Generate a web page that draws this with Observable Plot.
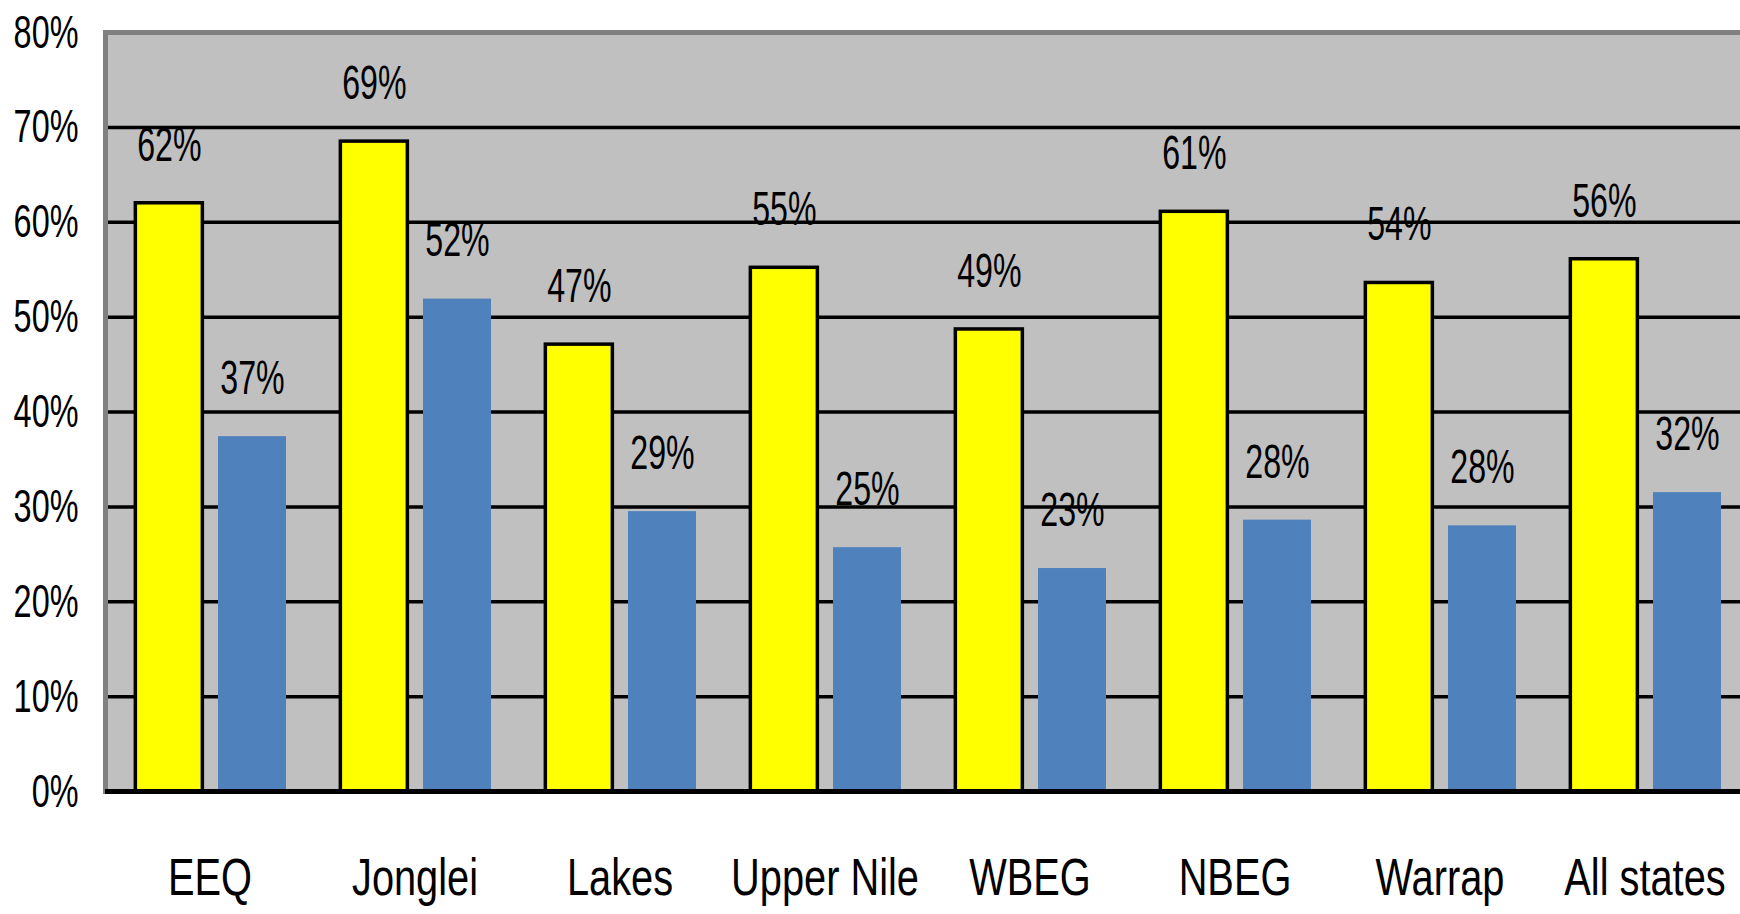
<!DOCTYPE html>
<html>
<head>
<meta charset="utf-8">
<script src="https://cdn.jsdelivr.net/npm/d3@7"></script>
<script src="https://cdn.jsdelivr.net/npm/@observablehq/plot@0.6"></script>
<style>
  html, body { margin: 0; padding: 0; overflow: hidden; background: #fff; }
</style>
</head>
<body>
<div id="chart"></div>
<script>
const categories = ["EEQ", "Jonglei", "Lakes", "Upper Nile", "WBEG", "NBEG", "Warrap", "All states"];
const yellowValues = [62.0, 68.5, 47.1, 55.2, 48.7, 61.1, 53.6, 56.1];
const yellowLabels = ["62%", "69%", "47%", "55%", "49%", "61%", "54%", "56%"];
const blueValues = [37.4, 51.9, 29.5, 25.7, 23.5, 28.6, 28.0, 31.5];
const blueLabels = ["37%", "52%", "29%", "25%", "23%", "28%", "28%", "32%"];
const yTicks = [0, 10, 20, 30, 40, 50, 60, 70, 80];
const gridTicks = [10, 20, 30, 40, 50, 60, 70];

const yellow = categories.map((c, i) => ({category: c, value: yellowValues[i], label: yellowLabels[i]}));
const blue = categories.map((c, i) => ({category: c, value: blueValues[i], label: blueLabels[i]}));

const chart = Plot.plot({
  width: 1749,
  height: 914,
  marginLeft: 105,
  marginRight: 0,
  marginTop: 32,
  marginBottom: 123,
  style: {maxWidth: "none", fontFamily: "'Liberation Sans', Arial, sans-serif", color: "#000", background: "#fff"},
  x: {domain: categories, padding: 0},
  y: {domain: [0, 80]},
  marks: [
    Plot.frame({fill: "#c0c0c0"}),
    Plot.ruleY(gridTicks, {stroke: "#000", strokeWidth: 3.5}),
    Plot.frame({stroke: "#808080", strokeWidth: 5}),
    Plot.barY(yellow, {x: "category", y: "value", fill: "#ffff00", stroke: "#000", strokeWidth: 3.5, insetLeft: 28.35, insetRight: 109.65}),
    Plot.barY(blue, {x: "category", y: "value", fill: "#4f81bd", insetLeft: 111, insetRight: 26}),
    Plot.ruleY([0], {stroke: "#000", strokeWidth: 5}),
    Plot.text(yellow, {x: "category", y: "value", text: "label", dx: -40.65, dy: -58, fontSize: 48, fill: "#000"}),
    Plot.text(blue, {x: "category", y: "value", text: "label", dx: 42.5, dy: -58, fontSize: 48, fill: "#000"}),
    Plot.axisY({ticks: yTicks, tickFormat: d => d + "%", tickSize: 0, tickPadding: 27, fontSize: 47, label: null, fill: "#000"}),
    Plot.axisX({tickSize: 0, tickPadding: 67, fontSize: 51, label: null, fill: "#000"})
  ]
});

document.getElementById("chart").appendChild(chart);

// condense glyphs horizontally (narrow typeface look)
const scaleBySize = {"51px": 0.78, "47px": 0.69, "48px": 0.67};
chart.querySelectorAll("text").forEach(t => {
  const fs = getComputedStyle(t).fontSize;
  const sx = scaleBySize[fs];
  if (!sx) return;
  const x = +t.getAttribute("x") || 0;
  const y = +t.getAttribute("y") || 0;
  const tr = t.getAttribute("transform") || "";
  t.setAttribute("transform", `${tr} translate(${x},${y}) scale(${sx},1) translate(${-x},${-y})`);
});
</script>
</body>
</html>
